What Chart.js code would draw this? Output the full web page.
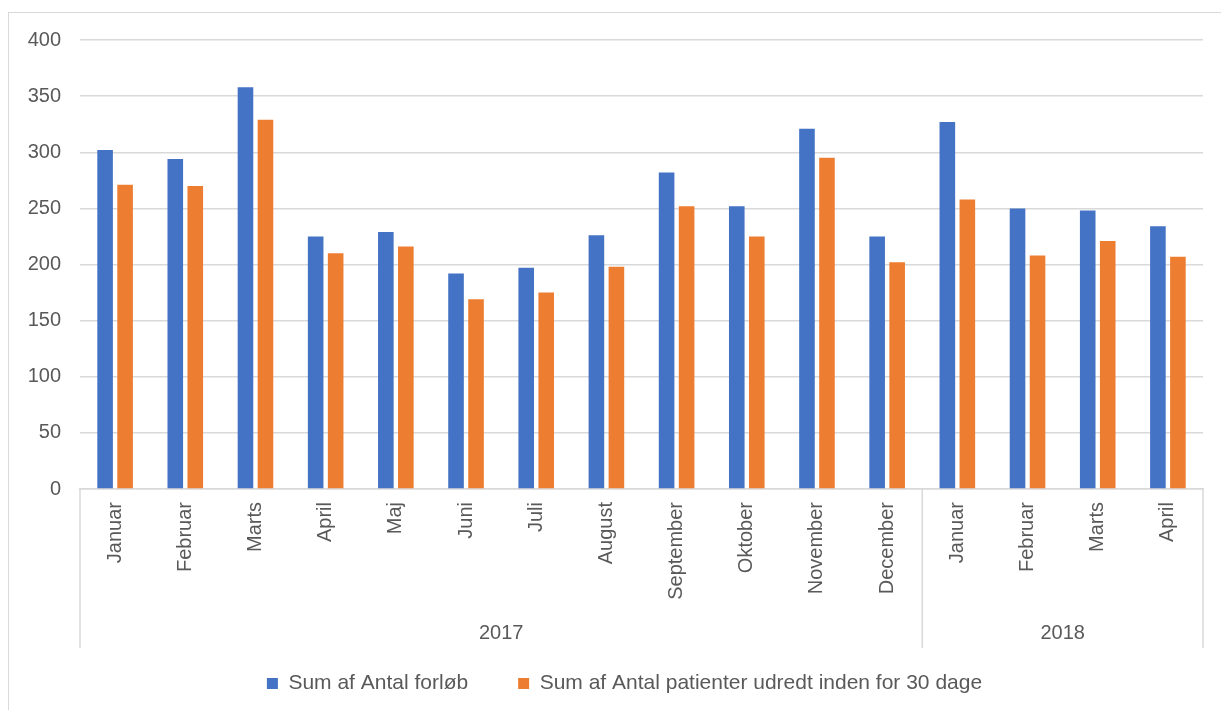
<!DOCTYPE html>
<html>
<head>
<meta charset="utf-8">
<script src="https://cdn.jsdelivr.net/npm/chart.js@4"></script>
<style>
  body { margin: 0; background: #fff; }
  #frame { position: absolute; left: 8px; top: 12px; width: 1300px; height: 800px; border: 1px solid #d9d9d9; }
  #wrap { position: absolute; left: 0; top: 0; width: 1221px; height: 710px; }
</style>
</head>
<body>
<div id="frame"></div>
<div id="wrap"><canvas id="myChart"></canvas></div>
<script>
const months = ['Januar', 'Februar', 'Marts', 'April', 'Maj', 'Juni', 'Juli', 'August',
  'September', 'Oktober', 'November', 'December', 'Januar', 'Februar', 'Marts', 'April'];
const years = ['2017', '2018'];
const monthsPerYear = [12, 4];
const forloeb = [302, 294, 358, 225, 229, 192, 197, 226, 282, 252, 321, 225, 327, 250, 248, 234];
const udredt = [271, 270, 329, 210, 216, 169, 175, 198, 252, 225, 295, 202, 258, 208, 221, 207];

const grey = '#595959';
const lineGrey = '#d9d9d9';
const fontFamily = "'Liberation Sans', Arial, sans-serif";

// draws the year row under the month labels, with the separators between years
const yearAxis = {
  id: 'yearAxis',
  afterLayout(chart) {
    // legend sits centred under the plot area rather than the whole canvas
    chart.legend.left += 46;
  },
  afterDraw(chart) {
    const x = chart.scales.x;
    const c = chart.ctx;
    const step = x.getPixelForValue(1) - x.getPixelForValue(0);
    const top = x.top;
    const bottom = x.top + 159;
    c.save();
    c.strokeStyle = lineGrey;
    c.lineWidth = 1.5;
    let start = 0;
    const edges = [x.getPixelForValue(0) - step / 2];
    for (let i = 0; i < years.length; i++) {
      const end = start + monthsPerYear[i] - 1;
      edges.push(x.getPixelForValue(end) + step / 2);
      const mid = (x.getPixelForValue(start) + x.getPixelForValue(end)) / 2;
      c.fillStyle = grey;
      c.font = '20px ' + fontFamily;
      c.textAlign = 'center';
      c.textBaseline = 'middle';
      c.fillText(years[i], mid, x.top + 144);
      start = end + 1;
    }
    edges.forEach(px => {
      c.beginPath();
      c.moveTo(px, top);
      c.lineTo(px, bottom);
      c.stroke();
    });
    c.restore();
  }
};

const ctx = document.getElementById('myChart').getContext('2d');
Chart.defaults.font.family = fontFamily;
Chart.defaults.color = grey;

const myChart = new Chart(ctx, {
  type: 'bar',
  data: {
    labels: months,
    datasets: [{
      label: 'Sum af Antal forløb',
      data: forloeb,
      backgroundColor: '#4472C4',
      borderWidth: 0
    }, {
      label: 'Sum af Antal patienter udredt inden for 30 dage',
      data: udredt,
      backgroundColor: '#ED7D31',
      borderWidth: 0
    }]
  },
  options: {
    responsive: true,
    maintainAspectRatio: false,
    animation: false,
    categoryPercentage: 0.57,
    barPercentage: 0.78,
    layout: { padding: { left: 0, right: 18, top: 40, bottom: 6 } },
    plugins: {
      legend: {
        position: 'bottom',
        labels: {
          boxWidth: 11,
          boxHeight: 11,
          padding: 50,
          font: { size: 21 },
          color: grey
        }
      },
      tooltip: { enabled: false }
    },
    scales: {
      x: {
        grid: { display: true, drawOnChartArea: false, drawTicks: false },
        border: { display: true, color: lineGrey, width: 1.5 },
        ticks: { minRotation: 90, maxRotation: 90, padding: 13, font: { size: 20 }, color: grey },
        afterFit(scale) { scale.height = 134; }
      },
      y: {
        min: 0,
        max: 400,
        ticks: { stepSize: 50, padding: 19, font: { size: 20 }, color: grey },
        grid: { color: lineGrey, lineWidth: 1.5, drawTicks: false },
        border: { display: false },
        afterFit(scale) { scale.width = 80; }
      }
    }
  },
  plugins: [yearAxis]
});
</script>
</body>
</html>
